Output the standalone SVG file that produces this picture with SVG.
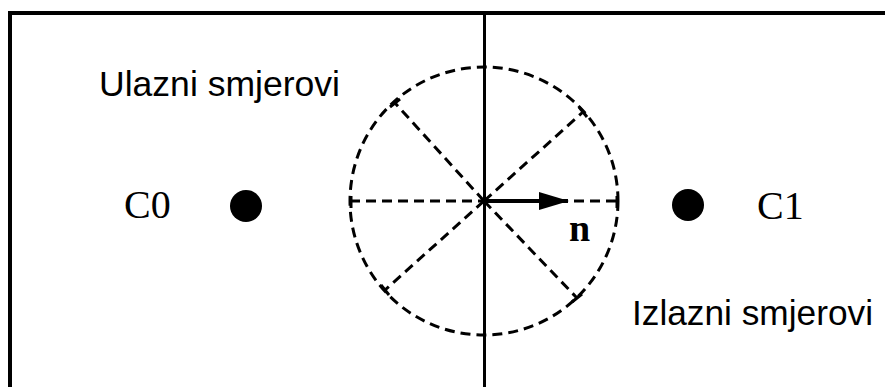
<svg xmlns="http://www.w3.org/2000/svg" width="885" height="387" viewBox="0 0 885 387">
<defs>
<style>
.frame{fill:none;stroke:#000;stroke-width:4}
.solid{fill:none;stroke:#000;stroke-width:3}
.dash{fill:none;stroke:#000;stroke-width:3;stroke-dasharray:10 6}
.tick{fill:none;stroke:#000;stroke-width:3}
.sans{font-family:"Liberation Sans",Arial,sans-serif;font-size:35px;fill:#000}
.serif{font-family:"Liberation Serif","Times New Roman",serif;font-size:40px;fill:#000}
.bold{font-family:"Liberation Serif","Times New Roman",serif;font-size:38px;font-weight:bold;fill:#000}
</style>
<marker id="ah" viewBox="0 0 30 20" refX="29" refY="10" markerWidth="30" markerHeight="20" markerUnits="userSpaceOnUse" orient="auto">
<path d="M0,1 L30,10 L0,19 Z" fill="#000"/>
</marker>
</defs>
<rect width="885" height="387" fill="#fff"/>
<g id="frame">
<path class="frame" d="M10,387 L10,13 L885,13"/>
<line class="solid" x1="484.5" y1="13" x2="484.5" y2="387"/>
</g>
<g id="circle">
<circle class="dash" cx="484" cy="201" r="134"/>
</g>
<g id="connectors">
<line class="dash" x1="350" y1="201" x2="617" y2="201"/>
<line class="dash" x1="484" y1="201" x2="395" y2="103"/>
<line class="dash" x1="484" y1="201" x2="583" y2="112"/>
<line class="dash" x1="484" y1="201" x2="385" y2="290"/>
<line class="dash" x1="484" y1="201" x2="577" y2="298"/>
<path class="tick" d="M351,196 L351,208 M617,196 L617,208 M390,107 L400,99 M579,107 L587,117 M381,285 L389,295 M572,302 L582,294"/>
<line x1="484" y1="201" x2="568" y2="201" stroke="#000" stroke-width="4" marker-end="url(#ah)"/>
</g>
<g id="C0">
<circle cx="246" cy="206" r="16" fill="#000"/>
<text class="serif" x="124" y="218">C0</text>
</g>
<g id="C1">
<circle cx="688" cy="205" r="16" fill="#000"/>
<text class="serif" x="757" y="219">C1</text>
</g>
<g id="labels">
<text class="sans" x="99" y="96" textLength="241" lengthAdjust="spacingAndGlyphs">Ulazni smjerovi</text>
<text class="sans" x="632" y="325" textLength="241" lengthAdjust="spacingAndGlyphs">Izlazni smjerovi</text>
<text class="bold" x="569" y="241">n</text>
</g>
</svg>
